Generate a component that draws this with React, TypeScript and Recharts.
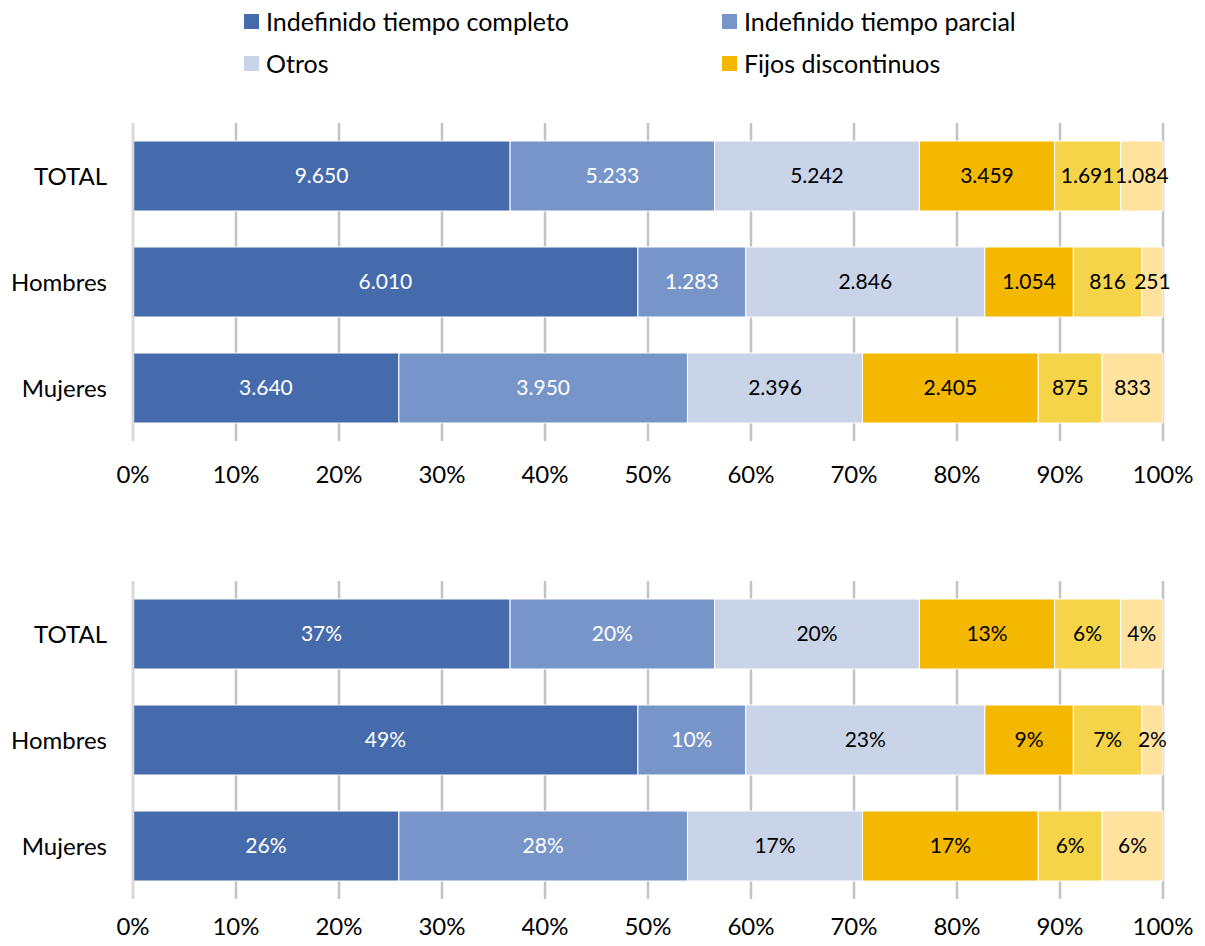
import React from "react";
import { BarChart, Bar, XAxis, YAxis, CartesianGrid, LabelList, ReferenceLine } from "recharts";

const categories = ["TOTAL", "Hombres", "Mujeres"];

const seriesNames = [
  "Indefinido tiempo completo",
  "Indefinido tiempo parcial",
  "Otros",
  "Fijos discontinuos",
  "Fijos discontinuos 2",
  "Fijos discontinuos 3",
];
const seriesColors = ["#466BAD", "#7895CA", "#C9D4E8", "#F5B800", "#F6D44A", "#FEE29E"];
const labelColors = ["#FFFFFF", "#FFFFFF", "#000000", "#000000", "#000000", "#000000"];

// counts per category (TOTAL, Hombres, Mujeres)
const indefCompleto = [9650, 6010, 3640];
const indefParcial = [5233, 1283, 3950];
const otros = [5242, 2846, 2396];
const fijosDisc = [3459, 1054, 2405];
const fijos2 = [1691, 816, 875];
const fijos3 = [1084, 251, 833];

// percentage labels as printed in the lower chart
const pctCompleto = ["37%", "49%", "26%"];
const pctParcial = ["20%", "10%", "28%"];
const pctOtros = ["20%", "23%", "17%"];
const pctFijos = ["13%", "9%", "17%"];
const pctFijos2 = ["6%", "7%", "6%"];
const pctFijos3 = ["4%", "2%", "6%"];

const xTicks = [0, 0.1, 0.2, 0.3, 0.4, 0.5, 0.6, 0.7, 0.8, 0.9, 1];

const legendItems = [0, 1, 2, 3];

const counts = [indefCompleto, indefParcial, otros, fijosDisc, fijos2, fijos3];
const pcts = [pctCompleto, pctParcial, pctOtros, pctFijos, pctFijos2, pctFijos3];

const rows = categories.map((name, i) => {
  const row: Record<string, string | number> = { name };
  counts.forEach((arr, k) => {
    row["s" + k] = arr[i];
    row["p" + k] = pcts[k][i];
  });
  return row;
});

const FONT = "Lato, 'Open Sans', sans-serif";

const fmtThousands = (v: any) => {
  const n = Number(v);
  if (n < 1000) return String(n);
  const th = Math.floor(n / 1000);
  const rest = String(n % 1000).padStart(3, "0");
  return th + "." + rest;
};

function StackChart({ top, height, mTop, tickGap, labelKind }: { top: number; height: number; mTop: number; tickGap: number; labelKind: "count" | "pct" }) {
  return (
    <div style={{ position: "absolute", left: 0, top }}>
      <BarChart
        width={1189}
        height={height}
        data={rows}
        layout="vertical"
        stackOffset="expand"
        barSize={70}
        margin={{ top: mTop, right: 34, bottom: 0, left: 0 }}
      >
        <CartesianGrid horizontal={false} stroke="#C3C3C3" strokeWidth={2.5} />
        <ReferenceLine x={0} stroke="#DADADA" strokeWidth={2.5} />
        <XAxis
          type="number"
          domain={[0, 1]}
          ticks={xTicks}
          tickFormatter={(v: number) => Math.round(v * 100) + "%"}
          axisLine={false}
          tickLine={false}
          tickSize={0}
          tickMargin={tickGap}
          height={height - mTop - 318}
          interval={0}
          tick={{ fill: "#000", fontSize: 24, fontFamily: FONT }}
        />
        <YAxis
          type="category"
          dataKey="name"
          width={125}
          axisLine={false}
          tickLine={false}
          tickSize={0}
          tickMargin={26}
          tick={{ fill: "#000", fontSize: 24, fontFamily: FONT }}
        />
        {seriesNames.map((s, k) => (
          <Bar
            key={s}
            dataKey={"s" + k}
            name={s}
            stackId="a"
            fill={seriesColors[k]}
            stroke="#FFFFFF"
            strokeWidth={1}
            isAnimationActive={false}
          >
            <LabelList
              dataKey={labelKind === "count" ? "s" + k : "p" + k}
              position="center"
              formatter={labelKind === "count" ? fmtThousands : undefined}
              fill={labelColors[k]}
              style={{ fontSize: 21, fontFamily: FONT }}
            />
          </Bar>
        ))}
      </BarChart>
    </div>
  );
}

export default function App() {
  return (
    <div style={{ position: "relative", width: 1189, height: 930, background: "#fff", fontFamily: FONT }}>
      <style>{`html, body { overflow: hidden; }`}</style>
      {legendItems.map((k) => {
        const col = k % 2;
        const row = Math.floor(k / 2);
        return (
          <div
            key={k}
            style={{
              position: "absolute",
              left: col === 0 ? 236 : 714,
              top: row === 0 ? 0 : 42,
              display: "flex",
              alignItems: "center",
              height: 26,
              fontSize: 25,
              color: "#000",
              whiteSpace: "nowrap",
            }}
          >
            <span style={{ display: "inline-block", width: 15, height: 15, background: seriesColors[k], marginRight: 7 }} />
            {seriesNames[k]}
          </div>
        );
      })}
      <StackChart top={0} height={500} mTop={115} tickGap={25} labelKind="count" />
      <StackChart top={457} height={481} mTop={116} tickGap={19} labelKind="pct" />
    </div>
  );
}
